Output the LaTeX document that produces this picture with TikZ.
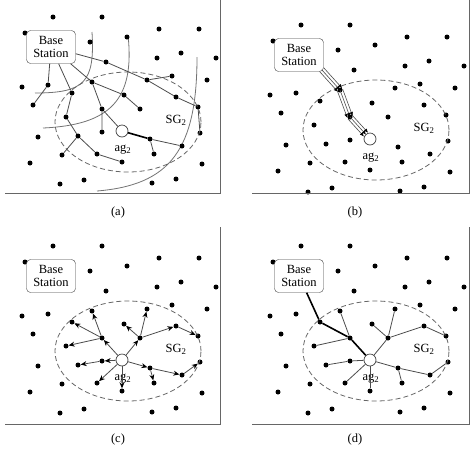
\documentclass[tikz,border=0pt]{standalone}
\usepackage{fontspec}
\setmainfont{Liberation Serif}
\usetikzlibrary{arrows.meta, calc}

\tikzset{
  dot/.style={circle, fill=black, inner sep=0pt, minimum size=5pt},
  station/.style={draw=black!75, fill=white, rounded corners=4pt, minimum width=49pt,
    minimum height=33pt, inner sep=1pt, align=center, font=\fontsize{12.5}{13.5}\selectfont},
  agent/.style={circle, draw=black!75, fill=white, line width=0.7pt, minimum size=12pt, inner sep=0pt},
  tag/.style={font=\fontsize{12.5}{13.5}\selectfont, inner sep=0pt},
  link/.style={black!70, line width=0.8pt},
  hopline/.style={black, line width=1.6pt},
  reach/.style={black!55, line width=0.8pt},
  zone/.style={black!60, line width=0.8pt, dash pattern=on 5pt off 3pt},
  box/.style={black!60, line width=0.9pt},
  strand/.style={black!70, line width=0.6pt, -{Latex[length=4pt, width=3.6pt, black]}},
  push/.style={link, -{Stealth[length=6pt, width=5pt, black]}},
}

% sensor field shared by the four panels
\newcommand{\field}{%
  \foreach \n/\x/\y in {1/53/17, 2/102/17, 3/25/33, 4/90/42, 5/127/37, 6/159/29, 7/199/29,
      8/157/58, 9/181/53, 10/216/58, 11/106/62, 12/22/87, 13/48/85, 14/33/105, 15/72/93,
      16/92/82, 17/124/95, 18/147/80, 19/172/76, 20/176/97, 21/207/80, 22/140/109,
      23/102/109, 24/66/117, 25/102/132, 26/198/107, 27/200/133, 28/38/137, 29/78/136,
      30/150/139, 31/182/146, 32/154/154, 33/62/155, 34/97/154, 35/122/162, 36/30/163,
      37/202/164, 38/60/184, 39/84/180, 40/152/183, 41/176/179}
    \node[dot] (d\n) at (\x,\y) {};
  \draw[zone] (128,122) ellipse [x radius=73pt, y radius=50pt];
  \node[station] (bs) at (51,47) {Base\\Station};
  \node[agent] (ag) at (122,131) {};
  \node[tag] (agname) at (123,150) {ag\textsubscript{2}};
  \node[tag] (sgname) at (176,120) {SG\textsubscript{2}};
}

% three parallel arrows from #1 to #2
\newcommand{\relay}[2]{%
  \foreach \s in {-2.8,0,2.8}
    \draw[strand] ($(#1)!\s pt!90:(#2)$) -- ($(#2)!-\s pt!90:(#1)$);
}

\begin{document}
\begin{tikzpicture}[x=1pt, y=-1pt]
\useasboundingbox (0,0) rectangle (474,448);

% (a) flooding
\begin{scope}[name prefix=a-]
  \draw[box] (5,193) -- (220,193) -- (220,0);
  \draw[reach] (92,32) .. controls (95,82) and (85,93) .. (35,93);
  \draw[reach] (128,35) .. controls (135,100) and (110,125) .. (43,128);
  \draw[reach] (197,57) .. controls (197,150) and (170,185) .. (97,191);
  \field
  \draw[link] (bs) -- (d11) -- (d18) -- (d20) -- (d26) -- (d27);
  \draw[link] (d18) -- (d19);
  \draw[link] (bs) -- (d13) -- (d14);
  \draw[link] (bs) -- (d15) -- (d24) -- (d29) -- (d34) -- (d35);
  \draw[link] (d29) -- (d33);
  \draw[link] (bs) -- (d16) -- (d17) -- (d22);
  \draw[link] (d16) -- (d23) -- (d25);
  \draw[link] (d23) -- (ag);
  \draw[hopline] (ag) -- (d30);
  \draw[link] (d30) -- (d31);
  \draw[link] (d30) -- (d32);
\end{scope}
\node[tag] (capa) at (118,212) {(a)};

% (b) query to the agent
\begin{scope}[shift={(248,8)}, name prefix=b-]
  \field
  \coordinate (bsc) at ($(bs.south east)+(-2,-2)$);
  \coordinate (agc) at ($(ag)!6pt!(d23)$);
  \relay{bsc}{d16}
  \relay{d16}{d23}
  \relay{d23}{agc}
\end{scope}
\draw[box] (252,193) -- (469,193) -- (469,0);
\node[tag] (capb) at (355,212) {(b)};

% (c) agent spreads inside the group
\begin{scope}[shift={(0,229)}, name prefix=c-]
  \field
  \foreach \u/\v in {ag/d23, d23/d15, d23/d16, d23/d24, ag/d25, d25/d29, ag/d34, ag/d35,
      ag/d22, d22/d18, d22/d17, d22/d20, d20/d26, ag/d30, d30/d32, d30/d31, d31/d27}
    \draw[push] (\u) -- (\v);
\end{scope}
\draw[box] (5,424) -- (220,424) -- (220,227);
\node[tag] (capc) at (118,439) {(c)};

% (d) reply path
\begin{scope}[shift={(248,229)}, name prefix=d-]
  \field
  \foreach \u/\v in {d23/d16, d23/d24, ag/d25, d25/d29, ag/d34, ag/d35,
      ag/d22, d22/d18, d22/d17, d22/d20, d20/d26, ag/d30, d30/d32, d30/d31, d31/d27}
    \draw[link] (\u) -- (\v);
  \draw[hopline] (bs) -- (d15) -- (d23) -- (ag);
\end{scope}
\draw[box] (252,424) -- (469,424) -- (469,227);
\node[tag] (capd) at (355,439) {(d)};
\end{tikzpicture}
\end{document}
